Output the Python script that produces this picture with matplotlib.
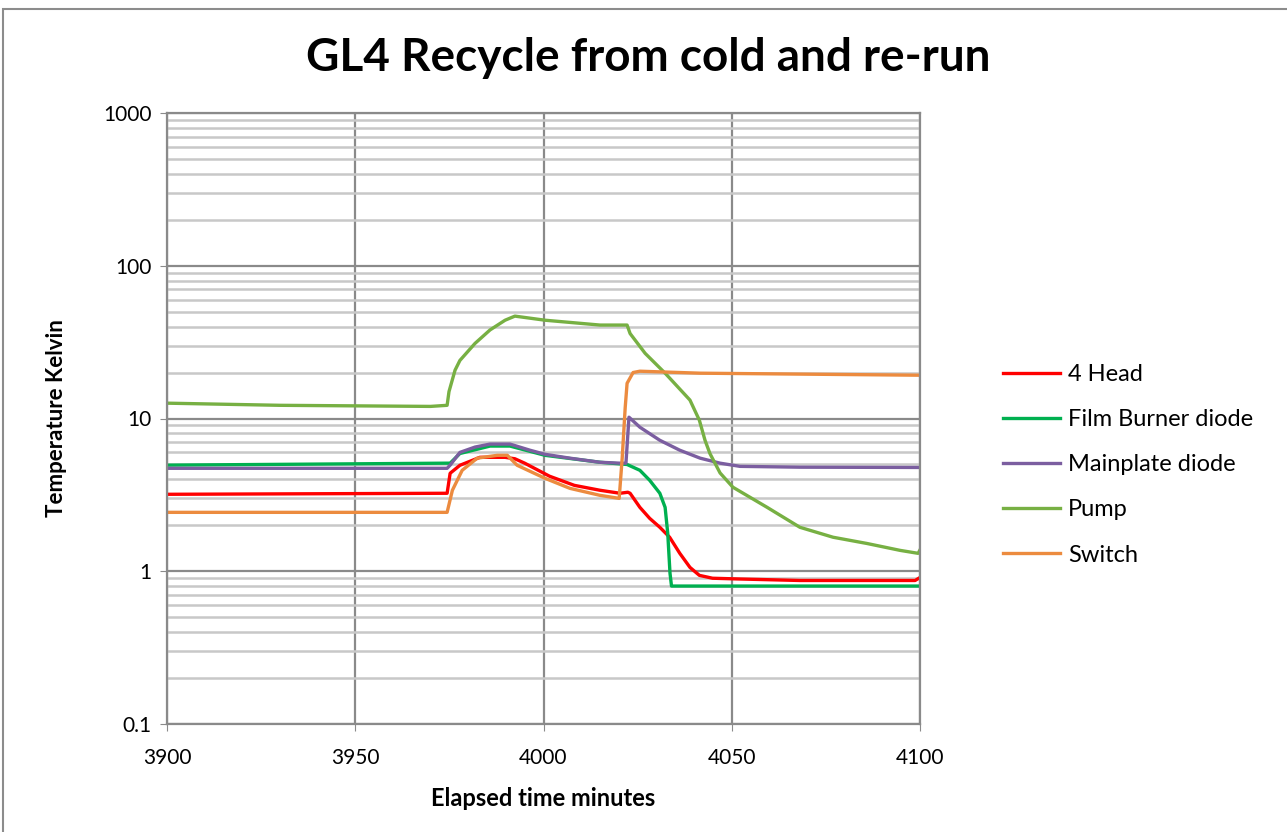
import matplotlib
matplotlib.use('Agg')
import matplotlib.pyplot as plt
from matplotlib.ticker import LogLocator, FixedLocator, NullFormatter
from matplotlib.patches import Rectangle

plt.rcParams['font.family'] = ['Lato', 'DejaVu Sans']

# ── Data ────────────────────────────────────────────────────
head_t = [3900, 3974.4, 3975.2, 3977.8, 3983.1, 3989.8, 3992.4, 3995.0,
          4001.6, 4008.2, 4015.0, 4020.3, 4022.4, 4023.0, 4025.6, 4028.2,
          4030.9, 4033.5, 4036.2, 4038.9, 4041.4, 4044.9, 4052.0, 4068.1, 4098.7, 4100]
head_T = [3.19, 3.24, 4.38, 4.94, 5.57, 5.57, 5.45, 5.10,
          4.19, 3.65, 3.39, 3.24, 3.29, 3.24, 2.62, 2.22,
          1.94, 1.67, 1.31, 1.06, 0.94, 0.90, 0.89, 0.87, 0.87, 0.91]

film_t = [3900, 3974.4, 3975.2, 3977.8, 3985.8, 3991.1, 4000.4, 4015.0,
          4022.2, 4025.6, 4028.2, 4030.9, 4032.3, 4033.0, 4033.6, 4034.0, 4100]
film_T = [4.95, 5.10, 5.10, 5.90, 6.60, 6.60, 5.74, 5.17,
          5.00, 4.58, 3.94, 3.24, 2.62, 1.77, 0.97, 0.80, 0.80]

main_t = [3900, 3974.4, 3975.2, 3977.8, 3981.8, 3985.8, 3991.1, 3996.4,
          4000.4, 4007.0, 4015.0, 4020.3, 4021.9, 4022.7, 4025.6, 4030.9,
          4036.2, 4041.6, 4046.9, 4052.2, 4068.1, 4100]
main_T = [4.72, 4.72, 4.95, 6.00, 6.50, 6.80, 6.80, 6.20,
          5.83, 5.50, 5.17, 5.10, 5.10, 10.2, 8.77, 7.20,
          6.20, 5.50, 5.10, 4.86, 4.80, 4.78]

pump_t = [3900, 3930, 3970, 3974.4, 3974.9, 3976.5, 3977.8, 3981.8, 3985.8,
          3989.8, 3992.4, 4000.4, 4015.0, 4022.2, 4023.0, 4027.0, 4032.3,
          4038.9, 4041.4, 4042.9, 4044.2, 4046.9, 4050.3, 4059.4, 4068.1,
          4076.9, 4085.9, 4094.7, 4099.5, 4100]
pump_T = [12.6, 12.2, 12.0, 12.2, 15.0, 20.7, 24.0, 31.0, 38.0,
          44.0, 46.8, 44.0, 40.9, 40.9, 36.0, 26.7, 19.8,
          13.2, 9.74, 7.2, 5.9, 4.4, 3.55, 2.62, 1.94,
          1.67, 1.52, 1.37, 1.31, 1.38]

switch_t = [3900, 3974.4, 3975.8, 3978.4, 3982.4, 3987.7, 3990.4, 3993.0,
            4000.4, 4007.0, 4015.0, 4020.1, 4020.9, 4021.7, 4022.2, 4023.8,
            4025.6, 4041.6, 4100]
switch_T = [2.43, 2.43, 3.39, 4.58, 5.50, 5.74, 5.74, 4.94,
            4.06, 3.49, 3.14, 3.00, 5.50, 11.8, 17.0, 20.0,
            20.4, 19.8, 19.2]

series = [
    ('4 Head', head_t, head_T, '#FF0000'),
    ('Film Burner diode', film_t, film_T, '#00B050'),
    ('Mainplate diode', main_t, main_T, '#7B5EA0'),
    ('Pump', pump_t, pump_T, '#77B043'),
    ('Switch', switch_t, switch_T, '#EC8B3F'),
]

# ── Figure ───────────────────────────────────────────────────
fig = plt.figure(figsize=(12.87, 8.32), dpi=100)
fig.patches.append(Rectangle((3 / 1287, -0.01), 1.1, 1 - 9 / 832 + 0.01,
                             transform=fig.transFigure, fill=False,
                             edgecolor='#8c8c8c', lw=1.5))
ax = fig.add_axes([167 / 1287, 1 - 724 / 832, (920 - 167) / 1287, (724 - 113) / 832])

for name, t, T, c in series:
    ax.plot(t, T, color=c, lw=2.4, label=name, solid_joinstyle='round')

ax.set_yscale('log')
ax.set_xlim(3900, 4100)
ax.set_ylim(0.1, 1000)
ax.xaxis.set_major_locator(FixedLocator([3900, 3950, 4000, 4050, 4100]))
ax.yaxis.set_minor_locator(LogLocator(base=10, subs=range(2, 10), numticks=100))
ax.yaxis.set_minor_formatter(NullFormatter())
ax.set_yticks([0.1, 1, 10, 100, 1000])
ax.set_yticklabels(['0.1', '1', '10', '100', '1000'])

ax.grid(which='major', axis='both', color='#8a8a8a', lw=1.6)
ax.grid(which='minor', axis='y', color='#c8c8c8', lw=1.8)
ax.set_axisbelow(True)
for s in ax.spines.values():
    s.set_color('#8a8a8a')
    s.set_linewidth(1.6)
ax.tick_params(which='major', direction='out', length=5, color='#8a8a8a',
               labelsize=15, pad=6)
ax.tick_params(axis='x', pad=12)
ax.tick_params(which='minor', length=0)

ax.set_xlabel('Elapsed time minutes', fontsize=17, fontweight='bold', labelpad=14)
ax.set_ylabel('Temperature Kelvin', fontsize=16, fontweight='bold', labelpad=26)
fig.text(648 / 1287, 1 - 58 / 832, 'GL4 Recycle from cold and re-run',
         ha='center', va='center', fontsize=33, fontweight='bold')

fig.legend(loc='upper left', bbox_to_anchor=(982 / 1287, 1 - 343 / 832),
           frameon=False, fontsize=17, handlelength=2.4, labelspacing=1.02,
           handletextpad=0.35)

plt.savefig('out.png', dpi=100)
